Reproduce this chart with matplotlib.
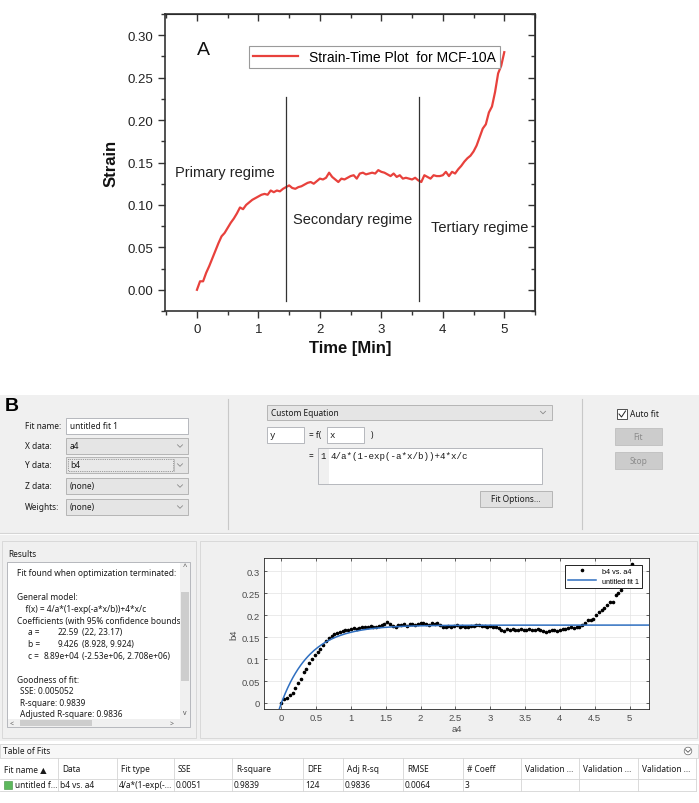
import numpy as np
import matplotlib.pyplot as plt
from matplotlib.patches import Rectangle, Circle
from matplotlib.ticker import MultipleLocator, FormatStrFormatter, FuncFormatter

# ---- panel A : strain-time curve ----
dt_a = 0.05
strain_a = [0.000, 0.010, 0.010, 0.020, 0.028, 0.037, 0.046, 0.055, 0.063, 0.067,
            0.073, 0.079, 0.084, 0.090, 0.097, 0.095, 0.100, 0.103, 0.106, 0.108,
            0.110, 0.112, 0.113, 0.112, 0.117, 0.115, 0.117, 0.116, 0.119, 0.121,
            0.123, 0.120, 0.119, 0.121, 0.122, 0.124, 0.126, 0.127, 0.125, 0.128,
            0.131, 0.130, 0.132, 0.138, 0.133, 0.130, 0.127, 0.131, 0.130, 0.132,
            0.134, 0.135, 0.131, 0.137, 0.138, 0.136, 0.137, 0.138, 0.137, 0.141,
            0.139, 0.138, 0.136, 0.134, 0.137, 0.133, 0.135, 0.131, 0.132, 0.131,
            0.130, 0.132, 0.129, 0.127, 0.135, 0.133, 0.131, 0.135, 0.134, 0.134,
            0.135, 0.139, 0.134, 0.139, 0.137, 0.142, 0.146, 0.151, 0.155, 0.158,
            0.163, 0.170, 0.180, 0.190, 0.195, 0.209, 0.216, 0.233, 0.255, 0.264,
            0.280]
time_a = np.arange(len(strain_a)) * dt_a
regime_x = [1.45, 3.62]
regime_names = ['Primary regime', 'Secondary regime', 'Tertiary regime']
regime_xy = [(0.46, 0.139), (2.53, 0.083), (3.81, 0.0735)]

# ---- panel B : cftool data and fit ----
dt_b = 0.04
b4 = [0.000, 0.008, 0.012, 0.018, 0.022, 0.033, 0.045, 0.055, 0.070, 0.078,
      0.090, 0.101, 0.110, 0.116, 0.124, 0.132, 0.141, 0.147, 0.152, 0.156,
      0.159, 0.162, 0.164, 0.166, 0.167, 0.169, 0.171, 0.168, 0.170, 0.172,
      0.174, 0.173, 0.175, 0.174, 0.172, 0.176, 0.177, 0.179, 0.184, 0.179,
      0.176, 0.174, 0.178, 0.177, 0.179, 0.176, 0.180, 0.179, 0.178, 0.180,
      0.183, 0.181, 0.180, 0.178, 0.182, 0.180, 0.181, 0.177, 0.174, 0.173,
      0.175, 0.174, 0.176, 0.178, 0.173, 0.175, 0.173, 0.174, 0.176, 0.175,
      0.177, 0.178, 0.175, 0.176, 0.174, 0.175, 0.173, 0.172, 0.170, 0.167,
      0.164, 0.168, 0.166, 0.168, 0.166, 0.167, 0.168, 0.167, 0.166, 0.168,
      0.167, 0.166, 0.168, 0.166, 0.164, 0.161, 0.163, 0.165, 0.166, 0.164,
      0.167, 0.168, 0.169, 0.171, 0.172, 0.170, 0.174, 0.172, 0.178, 0.182,
      0.190, 0.188, 0.192, 0.200, 0.206, 0.212, 0.217, 0.222, 0.230, 0.229,
      0.245, 0.250, 0.258, 0.268, 0.280, 0.300, 0.316]
a4 = np.arange(len(b4)) * dt_b
coef_a, coef_b, coef_c = 22.59, 9.426, 8.89e4

fields = [('Fit name:', 'untitled fit 1'), ('X data:', 'a4'), ('Y data:', 'b4'),
          ('Z data:', '(none)'), ('Weights:', '(none)')]
results = ['Fit found when optimization terminated:', '', 'General model:',
           '    f(x) = 4/a*(1-exp(-a*x/b))+4*x/c',
           'Coefficients (with 95% confidence bounds):']
coef_rows = [('a =', '22.59', '(22, 23.17)'),
             ('b =', '9.426', '(8.928, 9.924)'),
             ('c =', '8.89e+04', '(-2.53e+06, 2.708e+06)')]
gof_rows = ['SSE: 0.005052', 'R-square: 0.9839', 'Adjusted R-square: 0.9836']
table_cols = ['Fit name \u25B2', 'Data', 'Fit type', 'SSE', 'R-square', 'DFE',
              'Adj R-sq', 'RMSE', '# Coeff', 'Validation ...', 'Validation ...',
              'Validation ...']
table_row = ['untitled f...', 'b4 vs. a4', '4/a*(1-exp(-...', '0.0051', '0.9839',
             '124', '0.9836', '0.0064', '3', '', '', '']
col_edges = [0, 58, 117, 174, 232, 303, 343, 403, 463, 521, 579, 638, 696]

UI = ['Noto Sans', 'DejaVu Sans']
MONO = 'Liberation Mono'
W, H = 699, 804

fig = plt.figure(figsize=(W / 100, H / 100), dpi=100)

# background axes in pixel units for the GUI screenshot
gui = fig.add_axes([0, 0, 1, 1])
gui.set_xlim(0, W)
gui.set_ylim(H, 0)
gui.axis('off')
gui.set_zorder(0)


def rect(x0, y0, x1, y1, fc, ec='none', lw=0.6, ls='-', z=1):
    p = Rectangle((x0, y0), x1 - x0, y1 - y0, facecolor=fc, edgecolor=ec,
                  linewidth=lw, linestyle=ls, zorder=z)
    gui.add_patch(p)
    return p


def label(x, y, s, size=6.0, color='#1a1a1a', ha='left', family=UI, z=3, **kw):
    return gui.text(x, y, s, fontsize=size, color=color, ha=ha, va='center',
                    family=family, zorder=z, **kw)


def chevron(x, y, c='#8a8a8a'):
    gui.plot([x - 2.5, x, x + 2.5], [y - 1.2, y + 1.3, y - 1.2], color=c, lw=0.6, zorder=3)


def px_axes(x0, y0, x1, y1):
    return fig.add_axes([x0 / W, (H - y1) / H, (x1 - x0) / W, (y1 - y0) / H])


# ================= panel A =================
ax = px_axes(165, 15, 535, 312)
ax.set_zorder(2)
ax.plot(time_a, strain_a, color='#E8413C', lw=1.6, label='Strain-Time Plot  for MCF-10A')
for xv in regime_x:
    ax.plot([xv, xv], [-0.013, 0.227], color='#333333', lw=0.9)
for name, (tx, ty) in zip(regime_names, regime_xy):
    ax.text(tx, ty, name, fontsize=10.5, family='Liberation Sans', color='#222222',
            ha='center' if tx < 3.5 else 'left', va='center', clip_on=False)
ax.text(0.11, 0.283, 'A', fontsize=14, family='Liberation Sans', color='#111111',
        ha='center', va='center')
ax.set_xlim(-0.52, 5.5)
ax.set_ylim(-0.025, 0.325)
ax.xaxis.set_major_locator(MultipleLocator(1))
ax.xaxis.set_minor_locator(MultipleLocator(0.5))
ax.yaxis.set_major_locator(MultipleLocator(0.05))
ax.yaxis.set_minor_locator(MultipleLocator(0.025))
ax.yaxis.set_major_formatter(FormatStrFormatter('%.2f'))
ax.tick_params(which='both', direction='out', color='#333333', width=1.0,
               labelsize=9.5, labelcolor='#222222')
ax.tick_params(which='major', length=5)
ax.tick_params(which='minor', length=3)
for lab in ax.get_xticklabels() + ax.get_yticklabels():
    lab.set_family('Liberation Sans')
for sp in ax.spines.values():
    sp.set_color('#333333')
    sp.set_linewidth(1.2)
top = ax.secondary_xaxis('top')
top.xaxis.set_major_locator(MultipleLocator(1))
top.xaxis.set_minor_locator(MultipleLocator(0.5))
top.tick_params(which='both', direction='in', labeltop=False, color='#333333', width=1.0)
top.tick_params(which='major', length=5)
top.tick_params(which='minor', length=3)
right = ax.secondary_yaxis('right')
right.yaxis.set_major_locator(MultipleLocator(0.05))
right.yaxis.set_minor_locator(MultipleLocator(0.025))
right.tick_params(which='both', direction='in', labelright=False, color='#333333', width=1.0)
right.tick_params(which='major', length=5)
right.tick_params(which='minor', length=3)
ax.set_xlabel('Time [Min]', fontsize=12, fontweight='bold', family='Liberation Sans',
              color='#111111', labelpad=4)
ax.set_ylabel('Strain', fontsize=12, fontweight='bold', family='Liberation Sans',
              color='#111111', labelpad=6)
leg = ax.legend(loc='upper right', bbox_to_anchor=(0.905, 0.892), borderaxespad=0,
                fancybox=False, edgecolor='#9a9a9a', framealpha=1, handlelength=3.2,
                borderpad=0.3, prop={'family': 'Liberation Sans', 'size': 10})
leg.get_frame().set_linewidth(0.8)

# ================= panel B : GUI =================
# top settings strip
rect(0, 396, W, 534, '#F0F0F0')
gui.plot([0, W], [534, 534], color='#D5D5D5', lw=0.8)
gui.text(5, 407, 'B', fontsize=14, fontweight='bold', family='Liberation Sans',
         color='#000000', va='center', zorder=3)
row_y = [427, 447, 466, 487, 508]
for (name, val), yy in zip(fields, row_y):
    label(25, yy, name)
    if name == 'Fit name:':
        rect(66, yy - 8, 188, yy + 8, 'white', '#ABADB3')
    else:
        rect(66, yy - 8, 188, yy + 8, '#E5E5E5', '#ACACAC')
        chevron(180, yy)
    if name == 'Y data:':
        rect(68, yy - 6, 173, yy + 6, '#E9E9E9', '#555555', lw=0.5, ls=':')
        gui.plot([174, 174], [yy - 6, yy + 6], color='#ACACAC', lw=0.5, zorder=2)
    label(70, yy, val)
gui.plot([228, 228], [400, 530], color='#C8C8C8', lw=0.8)
gui.plot([582, 582], [400, 530], color='#C8C8C8', lw=0.8)

rect(267, 406, 552, 421, '#E5E5E5', '#ACACAC')
label(271, 413.5, 'Custom Equation')
chevron(543, 413.5)
rect(267, 428, 304, 444, 'white', '#ABADB3')
label(270, 436, 'y', family=MONO, size=6.5)
label(309, 436, '= f(')
rect(327, 428, 364, 444, 'white', '#ABADB3')
label(330, 436, 'x', family=MONO, size=6.5)
label(371, 436, ')')
label(309, 457, '=')
rect(318, 449, 542, 485, 'white', '#ABADB3')
rect(318.5, 449.5, 329, 484.5, '#F0F0F0', z=2)
label(320.5, 457, '1', family=MONO, size=6.5)
label(331, 457, '4/a*(1-exp(-a*x/b))+4*x/c', family=MONO, size=6.6)
rect(480, 492, 552, 508, '#E1E1E1', '#ADADAD')
label(516, 500, 'Fit Options...', ha='center')

rect(617, 410, 627, 420, 'white', '#333333')
gui.plot([619, 621.5, 625.5], [415, 418, 412], color='#222222', lw=0.7, zorder=3)
label(630, 415, 'Auto fit')
rect(615, 429, 662, 446, '#CCCCCC', '#BFBFBF')
label(638.5, 437.5, 'Fit', ha='center', color='#8C8C8C')
rect(615, 453, 662, 470, '#CCCCCC', '#BFBFBF')
label(638.5, 461.5, 'Stop', ha='center', color='#8C8C8C')

# middle strip: results + plot panel
rect(0, 536, W, 742, '#F0F0F0')
rect(2, 542, 196, 739, 'none', '#D5D5D5')
rect(200, 542, 697, 739, 'none', '#D5D5D5')
label(8, 555, 'Results')
rect(7, 563, 190, 728, 'white', '#ABADB3')
clip = Rectangle((7, 563), 173, 157, transform=gui.transData, facecolor='none')
step = 11.8
line_y = 574
for s in results:
    t = label(17, line_y, s)
    t.set_clip_path(clip)
    line_y += step
for nm, val, ci in coef_rows:
    label(28, line_y, nm).set_clip_path(clip)
    label(79, line_y, val, ha='right').set_clip_path(clip)
    label(82, line_y, ci).set_clip_path(clip)
    line_y += step
line_y += step
label(17, line_y, 'Goodness of fit:').set_clip_path(clip)
line_y += step
for s in gof_rows:
    label(20, line_y, s).set_clip_path(clip)
    line_y += 11.3
# scrollbars
rect(180, 563.5, 190, 720, '#F0F0F0', z=4)
rect(181, 593, 189, 682, '#CDCDCD', z=5)
rect(7.5, 720, 190, 728, '#F0F0F0', z=4)
rect(20, 721, 92, 727, '#CDCDCD', z=5)
label(185, 568, '^', size=5.5, ha='center', color='#555555', z=6)
label(185, 714, 'v', size=5, ha='center', color='#555555', z=6)
label(12, 724, '<', size=5, ha='center', color='#555555', z=6)
label(172, 724, '>', size=5, ha='center', color='#555555', z=6)

# fit plot
bx = px_axes(264, 559, 649, 710)
bx.set_zorder(3)
bx.plot(a4, b4, '.', color='black', ms=3.2, label='b4 vs. a4')
xf = np.linspace(-0.05, 5.3, 300)
yf = 4 / coef_a * (1 - np.exp(-coef_a * xf / coef_b)) + 4 * xf / coef_c
bx.plot(xf, yf, color='#2F6FC0', lw=1.1, label='untitled fit 1')
bx.set_xlim(-0.25, 5.28)
bx.set_ylim(-0.0137, 0.33)
bx.xaxis.set_major_locator(MultipleLocator(0.5))
bx.yaxis.set_major_locator(MultipleLocator(0.05))
bx.xaxis.set_major_formatter(FuncFormatter(lambda v, p: '%g' % round(v, 2)))
bx.yaxis.set_major_formatter(FuncFormatter(lambda v, p: '%g' % round(v, 2)))
bx.grid(True, color='#E3E3E3', lw=0.5)
bx.set_axisbelow(True)
bx.tick_params(direction='in', top=True, right=True, length=2.5, width=0.5,
               color='#262626', labelsize=6.8, labelcolor='#4D4D4D', pad=3)
for lab in bx.get_xticklabels() + bx.get_yticklabels():
    lab.set_family('Liberation Sans')
for sp in bx.spines.values():
    sp.set_color('#262626')
    sp.set_linewidth(0.6)
bx.set_xlabel('a4', fontsize=6.8, color='#4D4D4D', family='Liberation Sans', labelpad=1)
bx.set_ylabel('b4', fontsize=6.8, color='#4D4D4D', family='Liberation Sans', labelpad=2)
leg2 = bx.legend(loc='upper right', bbox_to_anchor=(0.982, 0.954), borderaxespad=0,
                 fancybox=False, edgecolor='black', framealpha=1, handlelength=4,
                 borderpad=0.4, labelspacing=0.4, markerscale=1.0,
                 prop={'family': 'Liberation Sans', 'size': 5.2})
leg2.get_frame().set_linewidth(0.6)

# table of fits
rect(0, 742, W, H, 'white')
rect(0, 745, W - 1, 759, '#F7F7F7', '#D5D5D5')
label(3, 752, 'Table of Fits')
gui.add_patch(Circle((688, 752), 3.8, facecolor='white', edgecolor='#666666', lw=0.5, zorder=3))
chevron(688, 752, c='#555555')
gui.plot([0, 696], [780, 780], color='#D5D5D5', lw=0.6)
gui.plot([0, 696], [792, 792], color='#D5D5D5', lw=0.6)
for xe in col_edges[1:]:
    gui.plot([xe, xe], [759, 792], color='#D5D5D5', lw=0.6)
for i, (head, cell) in enumerate(zip(table_cols, table_row)):
    x0 = col_edges[i]
    label(x0 + 4, 770, head, color='#1a1a1a')
    if i == 0:
        rect(4, 782, 12, 790, '#5CB85C', '#3E8E3E', lw=0.4)
        label(15, 786, cell)
    else:
        label(x0 + 2, 786, cell)

fig.savefig('out.png', dpi=100)
